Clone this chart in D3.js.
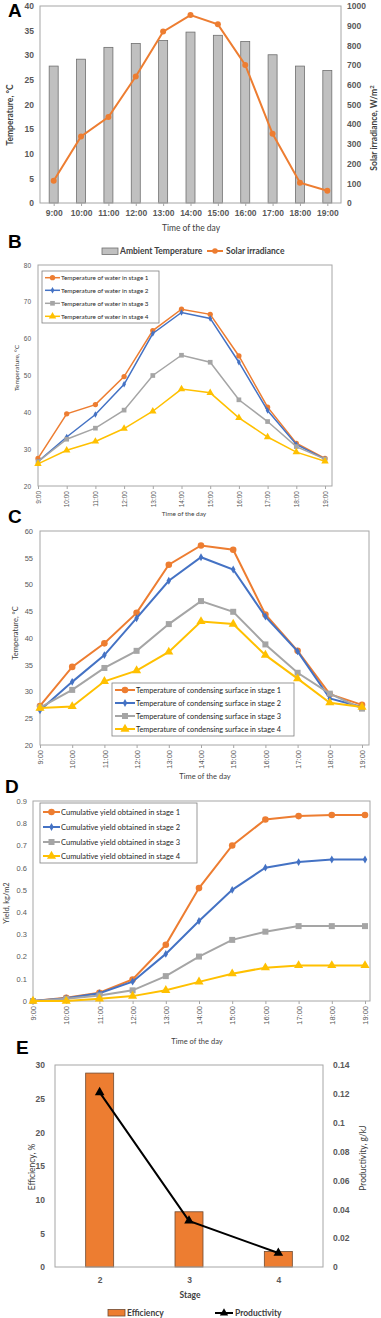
<!DOCTYPE html>
<html lang="en">
<head>
<meta charset="utf-8">
<script src="https://cdn.jsdelivr.net/npm/d3@7"></script>
<style>
body { margin: 0; background: #fff; }
svg { display: block; font-family: Lato, "Open Sans", sans-serif; }
.letter { font-family: "Liberation Sans", Arial, sans-serif; font-weight: bold; font-size: 19px; fill: #000; }
.tick text { fill: #595959; }
</style>
</head>
<body>
<script>
// ---- data ----
var hours = ['9:00', '10:00', '11:00', '12:00', '13:00', '14:00', '15:00', '16:00', '17:00', '18:00', '19:00'];

// A: ambient temperature (bars, left) and solar irradiance (line, right)
var ambientTemp = [27.8, 29.2, 31.6, 32.4, 33.0, 34.7, 34.05, 32.8, 30.1, 27.8, 26.9];
var solarIrr = [113, 338, 436, 642, 870, 954, 907, 701, 351, 103, 62];

// B: water temperature per stage
var water1 = [27.5, 39.6, 42.1, 49.7, 62.2, 68.0, 66.6, 55.3, 41.4, 31.6, 27.5];
var water2 = [26.6, 33.3, 39.4, 47.6, 61.4, 67.1, 65.5, 53.6, 40.5, 31.3, 27.3];
var water3 = [26.6, 32.7, 35.7, 40.6, 50.0, 55.5, 53.6, 43.4, 37.5, 30.7, 27.3];
var water4 = [26.0, 29.7, 32.1, 35.6, 40.3, 46.3, 45.3, 38.5, 33.3, 29.2, 26.7];

// C: condensing surface temperature per stage
var cond1 = [27.3, 34.6, 39.0, 44.7, 53.7, 57.3, 56.5, 44.4, 37.6, 29.5, 27.5];
var cond2 = [26.5, 31.8, 36.8, 43.7, 50.7, 55.1, 52.8, 44.0, 37.5, 28.7, 27.1];
var cond3 = [27.0, 30.3, 34.4, 37.6, 42.6, 46.9, 44.9, 38.8, 33.5, 29.6, 26.8];
var cond4 = [26.9, 27.2, 31.9, 33.9, 37.4, 43.1, 42.6, 36.8, 32.4, 27.9, 27.1];

// D: cumulative yield per stage
var yield1 = [0, 0.015, 0.037, 0.097, 0.253, 0.508, 0.70, 0.817, 0.832, 0.837, 0.837];
var yield2 = [0, 0.012, 0.035, 0.087, 0.212, 0.36, 0.50, 0.60, 0.625, 0.637, 0.637];
var yield3 = [0, 0.01, 0.025, 0.048, 0.112, 0.20, 0.275, 0.312, 0.337, 0.337, 0.337];
var yield4 = [0, 0, 0.01, 0.022, 0.048, 0.086, 0.123, 0.15, 0.16, 0.16, 0.16];

// E: efficiency and productivity per stage
var stages = ['2', '3', '4'];
var efficiency = [28.8, 8.2, 2.3];
var productivity = [0.121, 0.032, 0.0097];

var orange = '#ED7D31', blue = '#4472C4', grey = '#A5A5A5', yellow = '#FFC000';
var textCol = '#595959', frame = '#a6a6a6';

var svg = d3.select('body').append('svg').attr('width', 381).attr('height', 1318);
svg.append('rect').attr('width', 381).attr('height', 1318).attr('fill', '#fff');

function letter(t, x, y) {
  svg.append('text').attr('class', 'letter').attr('x', x).attr('y', y).text(t);
}

function symbolPath(type, size) {
  return d3.symbol().type(type).size(size)();
}

function styleAxis(g, fs, bold) {
  g.select('.domain').remove();
  g.selectAll('.tick line').attr('stroke', frame);
  g.selectAll('.tick text').attr('font-size', fs).attr('font-weight', bold ? 'bold' : 'normal');
}

// ---------------- Panel A ----------------
letter('A', 8, 17);
var xA = d3.scalePoint().domain(hours).range([40, 341]).padding(0.5);
var yA = d3.scaleLinear().domain([0, 40]).range([203, 6]);
var yA2 = d3.scaleLinear().domain([0, 1000]).range([203, 6]);
var gA = svg.append('g');

gA.selectAll('rect.bar').data(ambientTemp).enter().append('rect')
  .attr('class', 'bar')
  .attr('x', function(d, i) { return xA(hours[i]) - 4.5; })
  .attr('y', function(d) { return yA(d); })
  .attr('width', 9)
  .attr('height', function(d) { return yA(0) - yA(d); })
  .attr('fill', '#c0c0c0').attr('stroke', '#6f6f6f').attr('stroke-width', 0.8);

gA.append('rect').attr('x', 40).attr('y', 6).attr('width', 301).attr('height', 197)
  .attr('fill', 'none').attr('stroke', frame);

gA.append('g').attr('transform', 'translate(40,0)')
  .call(d3.axisLeft(yA).tickValues(d3.range(0, 41, 5)).tickSize(0).tickPadding(6))
  .call(styleAxis, 8.5, true);
gA.append('g').attr('transform', 'translate(341,0)')
  .call(d3.axisRight(yA2).tickValues(d3.range(0, 1001, 100)).tickSize(0).tickPadding(6)
    .tickFormat(d3.format('d')))
  .call(styleAxis, 8.5, true);
gA.append('g').attr('transform', 'translate(0,203)')
  .call(d3.axisBottom(xA).tickSize(3).tickPadding(4))
  .call(styleAxis, 8.5, true);

var lineA = d3.line().x(function(d, i) { return xA(hours[i]); }).y(function(d) { return yA2(d); });
gA.append('path').datum(solarIrr).attr('d', lineA)
  .attr('fill', 'none').attr('stroke', orange).attr('stroke-width', 2);
gA.selectAll('circle.pt').data(solarIrr).enter().append('circle')
  .attr('class', 'pt')
  .attr('cx', function(d, i) { return xA(hours[i]); })
  .attr('cy', function(d) { return yA2(d); })
  .attr('r', 3).attr('fill', orange);

gA.append('text').attr('transform', 'translate(13,115) rotate(-90)')
  .attr('text-anchor', 'middle').attr('font-size', 8.5).attr('font-weight', 'bold')
  .attr('fill', '#404040').text('Temperature, °C');
gA.append('text').attr('transform', 'translate(377,128) rotate(-90)')
  .attr('text-anchor', 'middle').attr('font-size', 8.5).attr('font-weight', 'bold')
  .attr('fill', '#404040').html('Solar irradiance, W/m<tspan dy="-3" font-size="6">2</tspan>');
gA.append('text').attr('x', 191).attr('y', 231).attr('text-anchor', 'middle')
  .attr('font-size', 8.5).attr('fill', '#404040').text('Time of the day');

// legend A
gA.append('rect').attr('x', 102).attr('y', 248).attr('width', 16).attr('height', 6.5)
  .attr('fill', '#c0c0c0').attr('stroke', '#6f6f6f').attr('stroke-width', 0.8);
gA.append('text').attr('x', 120).attr('y', 254).attr('font-size', 8.5).attr('font-weight', 'bold')
  .attr('fill', '#404040').text('Ambient Temperature');
gA.append('line').attr('x1', 207).attr('x2', 223).attr('y1', 251).attr('y2', 251)
  .attr('stroke', orange).attr('stroke-width', 2);
gA.append('circle').attr('cx', 215).attr('cy', 251).attr('r', 2.8).attr('fill', orange);
gA.append('text').attr('x', 226).attr('y', 254).attr('font-size', 8.5).attr('font-weight', 'bold')
  .attr('fill', '#404040').text('Solar irradiance');

// ---------------- line panels B, C, D ----------------
var markerTypes = [d3.symbolCircle, d3.symbolDiamond, d3.symbolSquare, d3.symbolTriangle];
var colors = [orange, blue, grey, yellow];

function linePanel(c) {
  var g = svg.append('g');
  var x = d3.scalePoint().domain(hours).range([c.left, c.lastX]);
  var y = d3.scaleLinear().domain(c.yDomain).range([c.bottom, c.top]);

  g.append('rect').attr('x', c.left).attr('y', c.top)
    .attr('width', c.right - c.left).attr('height', c.bottom - c.top)
    .attr('fill', 'none').attr('stroke', frame);

  g.append('g').attr('transform', 'translate(' + c.left + ',0)')
    .call(d3.axisLeft(y).tickValues(c.yTicks).tickSize(0).tickPadding(c.yPad).tickFormat(c.yFormat))
    .call(styleAxis, c.fs, false);

  var gx = g.append('g').attr('transform', 'translate(0,' + c.bottom + ')')
    .call(d3.axisBottom(x).tickSize(3).tickPadding(4))
    .call(styleAxis, c.fs, false);
  gx.selectAll('.tick text')
    .attr('transform', 'rotate(-90)')
    .attr('text-anchor', 'end')
    .attr('x', -5).attr('y', 0).attr('dy', '0.35em');

  var line = d3.line().x(function(d, i) { return x(hours[i]); }).y(function(d) { return y(d); });
  c.series.forEach(function(s, k) {
    g.append('path').datum(s).attr('d', line)
      .attr('fill', 'none').attr('stroke', colors[k]).attr('stroke-width', c.lw);
    g.selectAll('path.m' + k).data(s).enter().append('path')
      .attr('class', 'm' + k)
      .attr('transform', function(d, i) { return 'translate(' + x(hours[i]) + ',' + y(d) + ')'; })
      .attr('d', symbolPath(markerTypes[k], c.msize[k]))
      .attr('fill', colors[k]);
  });

  g.append('text').attr('transform', 'translate(' + c.yTitle[0] + ',' + c.yTitle[1] + ') rotate(-90)')
    .attr('text-anchor', 'middle').attr('font-size', c.fs).attr('fill', '#404040').text(c.yLabel);
  g.append('text').attr('x', c.xTitle[0]).attr('y', c.xTitle[1]).attr('text-anchor', 'middle')
    .attr('font-size', c.fs).attr('fill', '#404040').text('Time of the day');

  // legend
  var L = c.legend;
  g.append('rect').attr('x', L.x).attr('y', L.y).attr('width', L.w).attr('height', L.h)
    .attr('fill', '#fff').attr('stroke', '#7f7f7f').attr('stroke-width', 0.8);
  c.names.forEach(function(n, k) {
    var yy = L.rows[k];
    g.append('line').attr('x1', L.x1).attr('x2', L.x2).attr('y1', yy).attr('y2', yy)
      .attr('stroke', colors[k]).attr('stroke-width', c.lw);
    g.append('path').attr('transform', 'translate(' + ((L.x1 + L.x2) / 2) + ',' + yy + ')')
      .attr('d', symbolPath(markerTypes[k], c.msize[k])).attr('fill', colors[k]);
    g.append('text').attr('x', L.tx).attr('y', yy).attr('dy', '0.35em')
      .attr('font-size', L.fs).attr('fill', '#262626').text(n);
  });
}

// Panel B
letter('B', 8, 248);
linePanel({
  left: 38, right: 332, lastX: 325, top: 265, bottom: 486,
  yDomain: [20, 80], yTicks: d3.range(20, 81, 10), yPad: 7, yFormat: d3.format('d'),
  fs: 6.5, lw: 1.5, msize: [22, 12, 22, 24],
  series: [water1, water2, water3, water4],
  yLabel: 'Temperature, °C', yTitle: [19, 368], xTitle: [184, 516],
  names: ['Temperature of water in stage 1', 'Temperature of water in stage 2',
          'Temperature of water in stage 3', 'Temperature of water in stage 4'],
  legend: { x: 42, y: 271, w: 117, h: 52, rows: [277.7, 290.3, 303.3, 316.3], x1: 45, x2: 60, tx: 61, fs: 6.3 }
});

// Panel C
letter('C', 8, 523);
linePanel({
  left: 40, right: 369, lastX: 362, top: 531, bottom: 745,
  yDomain: [20, 60], yTicks: d3.range(20, 61, 5), yPad: 7, yFormat: d3.format('d'),
  fs: 7.5, lw: 2, msize: [34, 18, 36, 36],
  series: [cond1, cond2, cond3, cond4],
  yLabel: 'Temperature, °C', yTitle: [18, 633], xTitle: [205, 779],
  names: ['Temperature of condensing surface in stage 1', 'Temperature of condensing surface in stage 2',
          'Temperature of condensing surface in stage 3', 'Temperature of condensing surface in stage 4'],
  legend: { x: 112, y: 683, w: 182, h: 53, rows: [690, 703, 716, 729], x1: 115, x2: 135, tx: 136, fs: 7.3 }
});

// Panel D
letter('D', 5, 793);
linePanel({
  left: 33, right: 370, lastX: 365, top: 801, bottom: 1001,
  yDomain: [0, 0.9], yTicks: d3.range(0, 10).map(function(v) { return v / 10; }), yPad: 6,
  yFormat: function(d) { return d === 0 ? '0' : d3.format('.1f')(d); },
  fs: 7.5, lw: 2, msize: [34, 18, 36, 36],
  series: [yield1, yield2, yield3, yield4],
  yLabel: 'Yield, kg/m2', yTitle: [9, 903], xTitle: [197, 1044],
  names: ['Cumulative yield obtained in stage 1', 'Cumulative yield obtained in stage 2',
          'Cumulative yield obtained in stage 3', 'Cumulative yield obtained in stage 4'],
  legend: { x: 40, y: 803, w: 157, h: 60, rows: [812, 827, 842, 856], x1: 43, x2: 60, tx: 61, fs: 7.5 }
});

// ---------------- Panel E ----------------
letter('E', 16, 1054);
var xE = d3.scalePoint().domain(stages).range([55, 323]).padding(0.5);
var yE = d3.scaleLinear().domain([0, 30]).range([1267, 1065]);
var yE2 = d3.scaleLinear().domain([0, 0.14]).range([1267, 1065]);
var gE = svg.append('g');

gE.selectAll('rect.bar').data(efficiency).enter().append('rect')
  .attr('class', 'bar')
  .attr('x', function(d, i) { return xE(stages[i]) - 14; })
  .attr('y', function(d) { return yE(d); })
  .attr('width', 28)
  .attr('height', function(d) { return yE(0) - yE(d); })
  .attr('fill', orange).attr('stroke', '#6f4a30').attr('stroke-width', 0.8);

gE.append('rect').attr('x', 55).attr('y', 1065).attr('width', 268).attr('height', 202)
  .attr('fill', 'none').attr('stroke', frame);

gE.append('g').attr('transform', 'translate(55,0)')
  .call(d3.axisLeft(yE).tickValues(d3.range(0, 31, 5)).tickSize(0).tickPadding(10))
  .call(styleAxis, 8.5, true);
gE.append('g').attr('transform', 'translate(323,0)')
  .call(d3.axisRight(yE2).tickValues(d3.range(0, 8).map(function(v) { return v * 0.02; }))
    .tickSize(0).tickPadding(10).tickFormat(function(d) { return d === 0 ? '0' : +d.toFixed(2) + ''; }))
  .call(styleAxis, 8.5, true);
gE.append('g').attr('transform', 'translate(0,1267)')
  .call(d3.axisBottom(xE).tickSize(0).tickPadding(10))
  .call(styleAxis, 8.5, true);

var lineE = d3.line().x(function(d, i) { return xE(stages[i]); }).y(function(d) { return yE2(d); });
gE.append('path').datum(productivity).attr('d', lineE)
  .attr('fill', 'none').attr('stroke', '#000').attr('stroke-width', 2);
gE.selectAll('path.tri').data(productivity).enter().append('path')
  .attr('class', 'tri')
  .attr('transform', function(d, i) { return 'translate(' + xE(stages[i]) + ',' + yE2(d) + ')'; })
  .attr('d', symbolPath(d3.symbolTriangle, 40)).attr('fill', '#000');

gE.append('text').attr('transform', 'translate(35,1167) rotate(-90)')
  .attr('text-anchor', 'middle').attr('font-size', 8.5).attr('fill', '#404040').text('Efficiency, %');
gE.append('text').attr('transform', 'translate(366,1158) rotate(-90)')
  .attr('text-anchor', 'middle').attr('font-size', 8.5).attr('fill', '#404040').text('Productivity, g/kJ');
gE.append('text').attr('x', 190).attr('y', 1298).attr('text-anchor', 'middle')
  .attr('font-size', 8.5).attr('font-weight', 'bold').attr('fill', '#404040').text('Stage');

// legend E
gE.append('rect').attr('x', 108).attr('y', 1309.5).attr('width', 17).attr('height', 6.5)
  .attr('fill', orange).attr('stroke', '#6f4a30').attr('stroke-width', 0.8);
gE.append('text').attr('x', 127).attr('y', 1316).attr('font-size', 8.5).attr('font-weight', 'bold')
  .attr('fill', '#404040').text('Efficiency');
gE.append('line').attr('x1', 215).attr('x2', 233).attr('y1', 1313).attr('y2', 1313)
  .attr('stroke', '#000').attr('stroke-width', 2);
gE.append('path').attr('transform', 'translate(224,1313)')
  .attr('d', symbolPath(d3.symbolTriangle, 30)).attr('fill', '#000');
gE.append('text').attr('x', 235).attr('y', 1316).attr('font-size', 8.5).attr('font-weight', 'bold')
  .attr('fill', '#404040').text('Productivity');
</script>
</body>
</html>
